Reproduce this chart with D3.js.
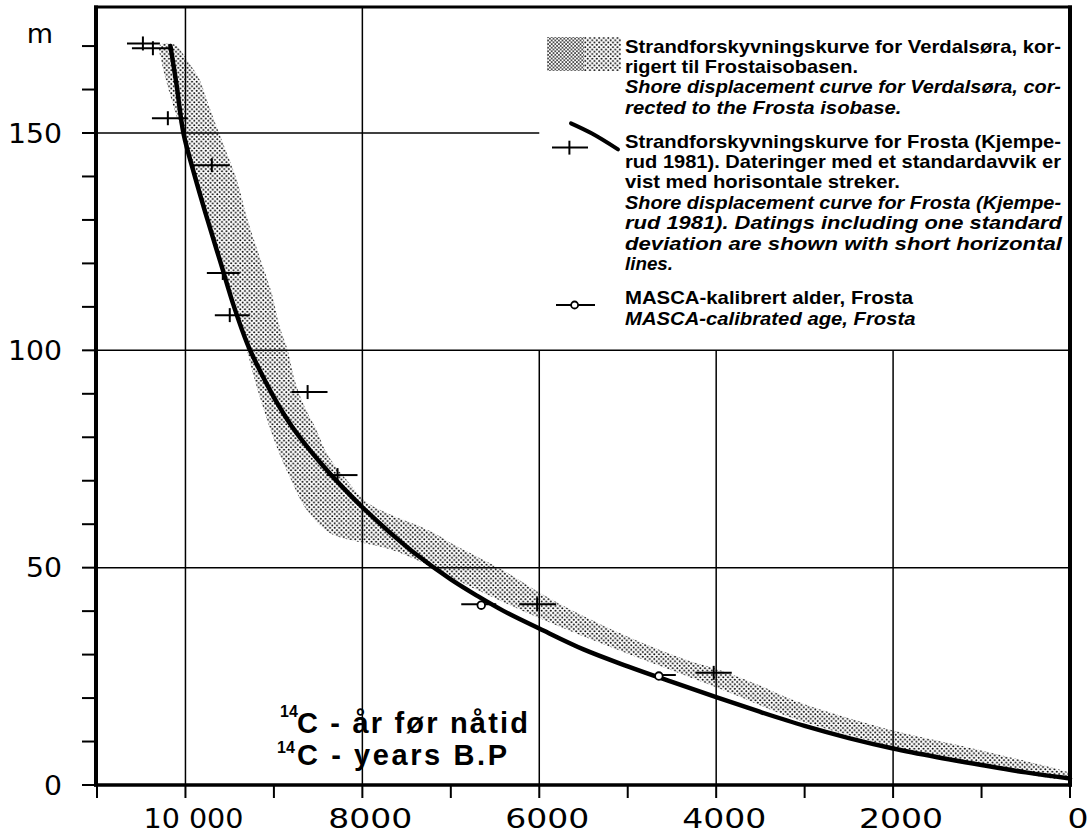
<!DOCTYPE html>
<html><head><meta charset="utf-8">
<script src="https://cdn.jsdelivr.net/npm/d3@7"></script>
<style>body{margin:0;background:#fff}</style>
</head><body>
<svg id="c" width="1088" height="835"></svg>
<script>
// ---- data (years BP, metres) ----
const frostaCurve = [[10170,170],[10100,161],[10023,150],[9900,140.5],[9750,130],[9600,120],[9450,110],[9300,101.5],[9150,95],[9000,89.2],[8800,82.6],[8600,77.2],[8400,72.4],[8200,68.0],[8000,63.9],[7700,58.3],[7400,53.2],[7000,47.3],[6700,43.5],[6400,40],[6000,36],[5500,31.2],[5000,27.3],[4500,23.7],[4000,20.2],[3500,16.8],[3000,13.6],[2500,10.8],[2000,8.4],[1500,6.4],[1000,4.6],[500,2.9],[0,1.5]];
const verdalUpper = [[10289,170.2],[10120,170.3],[9984,166.8],[9838,162.2],[9759,157.6],[9646,151.4],[9533,145.4],[9420,139.2],[9307,130.7],[9161,121.5],[9025,113.2],[8935,105.4],[8845,100.1],[8766,93.2],[8653,87.0],[8518,81.7],[8405,76.4],[8179,70.2],[7953,65.1],[7660,62.0],[7350,59.5],[7130,57.3],[6983,55.5],[6419,49.5],[5855,42.6],[5099,35.0],[4343,28.8],[3971,26.5],[3520,23],[3069,19.1],[2031,12.7],[1038,8.1],[45,3.1],[0,2.7]];
const verdalLower = [[10289,170.2],[10266,166],[10199,160.6],[10097,153.7],[10041,150.7],[9950,143.2],[9800,133.5],[9600,120.5],[9400,108.8],[9296,99.4],[9161,89.3],[8969,77.8],[8822,70.9],[8630,63.3],[8371,58],[8032,55.9],[7700,54.3],[7434,52.2],[7000,47.8],[6036,38.7],[5000,30.2],[4000,22.5],[3081,15],[2031,9],[1038,5],[45,1.5],[0,1.4]];
const datingYears = [10481,10368,10199,9702,9578,9499,8619,8281,6024,4028];
const datingLo    = [10661,10605,10379,9916,9758,9668,8800,8405,6227,4231];
const datingHi    = [10289,10142,9975,9499,9386,9273,8394,8055,5810,3824];
const datingM     = [170.6,169.5,153.4,142.6,117.8,108.1,90.4,71.3,41.6,25.8];
const mascaYears = [6656,4648];
const mascaLo    = [6882,4761];
const mascaHi    = [6487,4456];
const mascaM     = [41.6,25.3];
const xTickValues = d3.range(0, 11001, 1000);
const xLabelValues = [10000,8000,6000,4000,2000,0];
const xLabelTexts  = ["10 000","8000","6000","4000","2000","0"];
const yTickValues = d3.range(0, 171, 10);
const yLabelValues = [0,50,100,150];
const yMax = 179;
const legendLines = [
 ["Strandforskyvningskurve for Verdalsøra, kor-", false],
 ["rigert til Frostaisobasen.", false],
 ["Shore displacement curve for Verdalsøra, cor-", true],
 ["rected to the Frosta isobase.", true],
 ["Strandforskyvningskurve for Frosta (Kjempe-", false],
 ["rud 1981). Dateringer med et standardavvik er", false],
 ["vist med horisontale streker.", false],
 ["Shore displacement curve for Frosta (Kjempe-", true],
 ["rud 1981). Datings including one standard", true],
 ["deviation are shown with short horizontal", true],
 ["lines.", true],
 ["MASCA-kalibrert alder, Frosta", false],
 ["MASCA-calibrated age, Frosta", true]
];

// ---- layout ----
const svg = d3.select("#c");
const x = d3.scaleLinear().domain([11000,0]).range([97,1070]);
const y = d3.scaleLinear().domain([0,150]).range([785,133]);
const X0 = x(11000), X1 = x(0), Y0 = y(0), YT = y(yMax);

const defs = svg.append("defs");
const pat = defs.append("pattern").attr("id","dots").attr("patternUnits","userSpaceOnUse").attr("width",4.6).attr("height",4.6);
pat.append("circle").attr("cx",1.15).attr("cy",1.15).attr("r",1.0).attr("fill","#000");
pat.append("circle").attr("cx",3.45).attr("cy",3.45).attr("r",1.0).attr("fill","#000");
const pat2 = defs.append("pattern").attr("id","dots2").attr("patternUnits","userSpaceOnUse").attr("width",3.6).attr("height",3.6);
pat2.append("circle").attr("cx",0.9).attr("cy",0.9).attr("r",0.85).attr("fill","#000");
pat2.append("circle").attr("cx",2.7).attr("cy",2.7).attr("r",0.85).attr("fill","#000");

// grid
const g = svg.append("g").attr("stroke","#000").attr("stroke-width",1.5);
[10000,8000].forEach(v=>g.append("line").attr("x1",x(v)).attr("x2",x(v)).attr("y1",YT).attr("y2",Y0));
[6000,4000,2000].forEach(v=>g.append("line").attr("x1",x(v)).attr("x2",x(v)).attr("y1",y(100)).attr("y2",Y0));
g.append("line").attr("x1",X0).attr("x2",X1).attr("y1",y(50)).attr("y2",y(50));
g.append("line").attr("x1",X0).attr("x2",X1).attr("y1",y(100)).attr("y2",y(100));
g.append("line").attr("x1",X0).attr("x2",x(6000)).attr("y1",y(150)).attr("y2",y(150));

// band
const pline = d3.line().x(d=>x(d[0])).y(d=>y(d[1])).curve(d3.curveCatmullRomClosed);
const poly = verdalUpper.concat(verdalLower.slice().reverse().slice(1,-1));
svg.append("path").attr("d",pline(poly)).attr("fill","url(#dots)");

// frosta curve
const cline = d3.line().x(d=>x(d[0])).y(d=>y(d[1])).curve(d3.curveCatmullRom);
svg.append("path").attr("d",cline(frostaCurve)).attr("fill","none").attr("stroke","#000").attr("stroke-width",4.5).attr("stroke-linecap","round");

// datings
const dg = svg.append("g").attr("stroke","#000").attr("stroke-width",2);
datingYears.forEach((yr,i)=>{
  dg.append("line").attr("x1",x(datingLo[i])).attr("x2",x(datingHi[i])).attr("y1",y(datingM[i])).attr("y2",y(datingM[i]));
  dg.append("line").attr("x1",x(yr)).attr("x2",x(yr)).attr("y1",y(datingM[i])-7).attr("y2",y(datingM[i])+7);
});
mascaYears.forEach((yr,i)=>{
  dg.append("line").attr("x1",x(mascaLo[i])).attr("x2",x(mascaHi[i])).attr("y1",y(mascaM[i])).attr("y2",y(mascaM[i]));
  dg.append("circle").attr("cx",x(yr)).attr("cy",y(mascaM[i])+1).attr("r",3.8).attr("fill","#fff").attr("stroke-width",1.8);
});

// frame & axes
const f = svg.append("g").attr("stroke","#000").attr("fill","none");
f.append("line").attr("x1",X0-1).attr("x2",X0-1).attr("y1",YT-1.5).attr("y2",Y0+1.5).attr("stroke-width",4);
f.append("line").attr("x1",X1).attr("x2",X1).attr("y1",YT-1.5).attr("y2",Y0+1.5).attr("stroke-width",4);
f.append("line").attr("x1",X0-3).attr("x2",X1+2).attr("y1",YT).attr("y2",YT).attr("stroke-width",3);
f.append("line").attr("x1",X0-3).attr("x2",X1+2).attr("y1",Y0).attr("y2",Y0).attr("stroke-width",3.5);
yTickValues.forEach(v=>f.append("line").attr("x1",82).attr("x2",X0-1).attr("y1",y(v)).attr("y2",y(v)).attr("stroke-width",2));
xTickValues.forEach(v=>f.append("line").attr("x1",x(v)).attr("x2",x(v)).attr("y1",Y0).attr("y2",Y0+13).attr("stroke-width",2));

// tick labels
const lab = svg.append("g").attr("font-family","DejaVu Sans").attr("font-size",27).attr("fill","#000");
yLabelValues.forEach(v=>{
  const t = String(v);
  lab.append("text").attr("x",62 - t.length*18).attr("y",y(v)+9.5).attr("textLength",t.length*18).attr("lengthAdjust","spacingAndGlyphs").text(t);
});
lab.append("text").attr("x",40).attr("y",43).attr("text-anchor","middle").text("m");
xLabelValues.forEach((v,i)=>{
  const t = xLabelTexts[i];
  const w = t.length===1 ? 21 : (t.length===4 ? 84 : 100);
  lab.append("text").attr("x",x(v)+8-w/2).attr("y",828).attr("textLength",w).attr("lengthAdjust","spacingAndGlyphs").text(t);
});

// legend
const lg = svg.append("g").attr("font-family","Liberation Sans, Arial, sans-serif").attr("font-weight","bold").attr("font-size",19).attr("fill","#000");
const baselines = [52.5,72.9,93.3,113.7,147.6,168,188.4,208.8,229.2,249.6,270,304.4,324.8];
const ends = [1061,858,1061,901.5,1061,1061,900,1061,1062,1062,673,913,915.5];
legendLines.forEach((l,i)=>{
  lg.append("text").attr("x",625).attr("y",baselines[i]).attr("font-style",l[1]?"italic":"normal")
    .attr("textLength",ends[i]-625).attr("lengthAdjust","spacingAndGlyphs").text(l[0]);
});
svg.append("rect").attr("x",547).attr("y",37).attr("width",37).attr("height",34).attr("fill","url(#dots2)");
svg.append("rect").attr("x",584).attr("y",37).attr("width",37).attr("height",34).attr("fill","url(#dots)");
svg.append("path").attr("d",d3.line().curve(d3.curveCatmullRom)([[571,123.4],[592,133.6],[618,149.4]])).attr("fill","none").attr("stroke","#000").attr("stroke-width",4).attr("stroke-linecap","round");
svg.append("line").attr("x1",552).attr("x2",588).attr("y1",147.6).attr("y2",147.6).attr("stroke","#000").attr("stroke-width",2);
svg.append("line").attr("x1",569.4).attr("x2",569.4).attr("y1",140.7).attr("y2",154.6).attr("stroke","#000").attr("stroke-width",2);
svg.append("line").attr("x1",556).attr("x2",595).attr("y1",305).attr("y2",305).attr("stroke","#000").attr("stroke-width",1.8);
svg.append("circle").attr("cx",574.6).attr("cy",305).attr("r",3.5).attr("fill","#fff").attr("stroke","#000").attr("stroke-width",1.8);

// x-axis title
const tt = svg.append("g").attr("font-family","Liberation Sans, Arial, sans-serif").attr("font-weight","bold").attr("fill","#000");
tt.append("text").attr("x",280).attr("y",717).attr("font-size",16).text("14");
tt.append("text").attr("x",297).attr("y",733).attr("font-size",29).attr("textLength",231).attr("lengthAdjust","spacing").text("C - år før nåtid");
tt.append("text").attr("x",277).attr("y",753).attr("font-size",16).text("14");
tt.append("text").attr("x",297).attr("y",765).attr("font-size",29).attr("textLength",210).attr("lengthAdjust","spacing").text("C - years B.P");
</script>
</body></html>
